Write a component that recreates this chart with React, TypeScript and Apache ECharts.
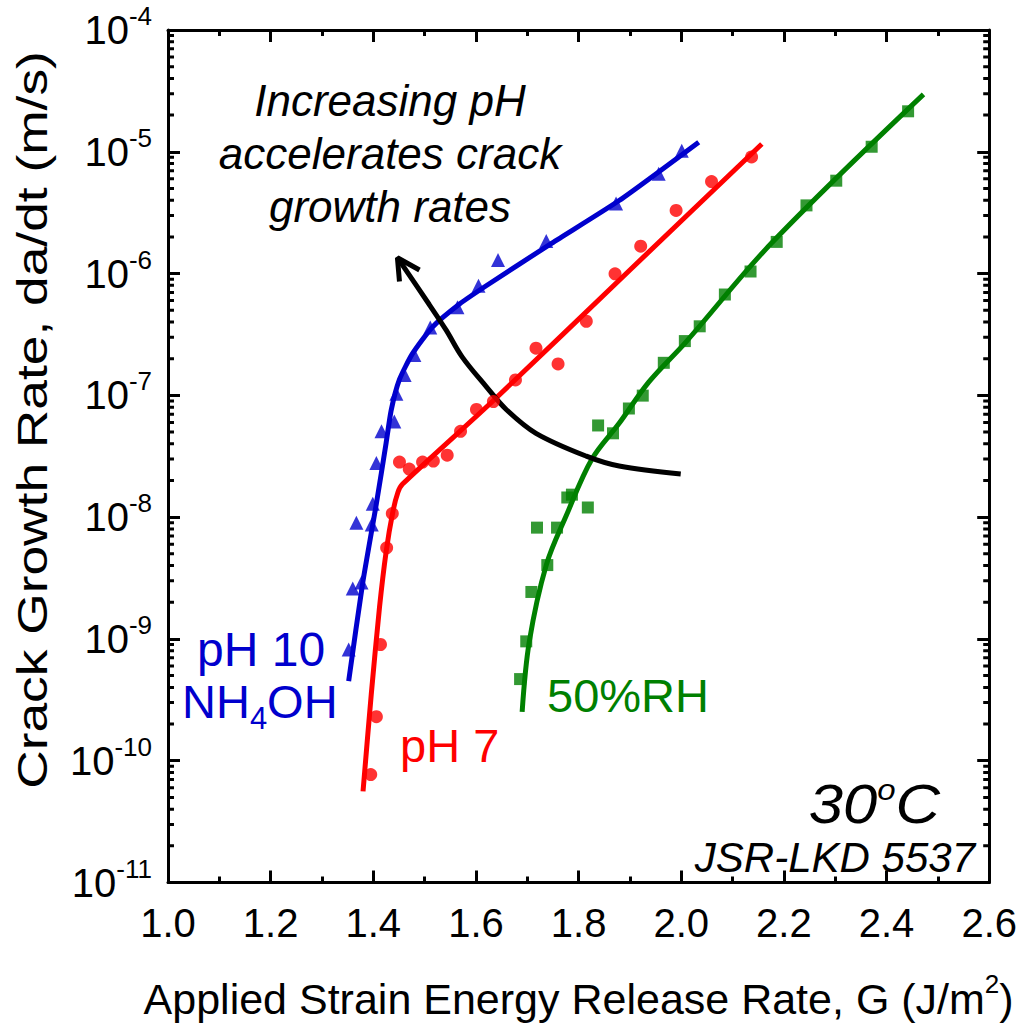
import React, { useEffect, useRef } from "react";
import * as echarts from "echarts";

const FONT = '"Liberation Sans", Arial, Helvetica, sans-serif';

// x tick values (major)
const xTicks = [1.0, 1.2, 1.4, 1.6, 1.8, 2.0, 2.2, 2.4, 2.6];
// y decades (exponents)
const yDecades = [-11, -10, -9, -8, -7, -6, -5, -4];

// pH 10 NH4OH data (G, da/dt)
const ph10G = [1.352, 1.360, 1.377, 1.367, 1.397, 1.399, 1.406, 1.416, 1.441, 1.445, 1.461, 1.480, 1.511, 1.564, 1.605, 1.643, 1.737, 1.873, 1.956, 2.001];
const ph10V = [8.2e-10, 2.6e-9, 2.9e-9, 9.0e-9, 8.7e-9, 1.29e-8, 2.78e-8, 5.07e-8, 6.1e-8, 1.03e-7, 1.47e-7, 2.14e-7, 3.6e-7, 5.3e-7, 7.96e-7, 1.29e-6, 1.85e-6, 3.77e-6, 6.6e-6, 1.02e-5];
// pH 10 fit
const ph10FitG = [1.352, 1.379, 1.406, 1.425, 1.435, 1.451, 1.476, 1.515, 1.568, 1.620, 1.748, 1.879, 2.034];
const ph10FitV = [4.5e-10, 2.82e-9, 1.29e-8, 4.07e-8, 7.6e-8, 1.35e-7, 2.19e-7, 3.63e-7, 5.62e-7, 7.94e-7, 1.78e-6, 3.98e-6, 1.2e-5];

// pH 7 data
const ph7G = [1.395, 1.406, 1.414, 1.426, 1.437, 1.451, 1.470, 1.496, 1.517, 1.544, 1.570, 1.601, 1.634, 1.677, 1.717, 1.760, 1.815, 1.871, 1.921, 1.990, 2.059, 2.137];
const ph7V = [7.7e-11, 2.3e-10, 9.0e-10, 5.6e-9, 1.07e-8, 2.83e-8, 2.48e-8, 2.83e-8, 2.89e-8, 3.23e-8, 5.07e-8, 7.66e-8, 8.9e-8, 1.34e-7, 2.44e-7, 1.81e-7, 4.06e-7, 9.95e-7, 1.68e-6, 3.3e-6, 5.69e-6, 9.08e-6];
// pH 7 fit
const ph7FitG = [1.380, 1.396, 1.412, 1.425, 1.438, 1.448, 1.457, 1.632, 1.900, 2.157];
const ph7FitV = [5.6e-11, 3.5e-10, 1.8e-9, 5.2e-9, 1.1e-8, 1.6e-8, 1.87e-8, 8.9e-8, 1.07e-6, 1.16e-5];

// 50%RH data
const rhG = [1.686, 1.698, 1.708, 1.739, 1.719, 1.758, 1.778, 1.787, 1.818, 1.838, 1.867, 1.898, 1.925, 1.966, 2.007, 2.036, 2.085, 2.135, 2.186, 2.244, 2.302, 2.371, 2.442];
const rhV = [4.68e-10, 9.55e-10, 2.43e-9, 4.04e-9, 8.2e-9, 8.2e-9, 1.45e-8, 1.53e-8, 1.2e-8, 5.66e-8, 4.88e-8, 7.8e-8, 9.95e-8, 1.85e-7, 2.79e-7, 3.69e-7, 6.73e-7, 1.04e-6, 1.82e-6, 3.63e-6, 5.79e-6, 1.10e-5, 2.15e-5];
// 50%RH fit
const rhFitG = [1.690, 1.704, 1.737, 1.776, 1.826, 1.879, 1.937, 2.009, 2.176, 2.472];
const rhFitV = [2.52e-10, 9.55e-10, 4.04e-9, 1.03e-8, 3.0e-8, 5.89e-8, 1.29e-7, 2.74e-7, 1.78e-6, 2.96e-5];

// annotation arrow (G, da/dt), from tail to tip
const arrowG = [1.999, 1.879, 1.815, 1.717, 1.659, 1.620, 1.573, 1.542, 1.509, 1.447];
const arrowV = [2.26e-8, 2.63e-8, 3.17e-8, 4.88e-8, 7.66e-8, 1.18e-7, 2.07e-7, 3.43e-7, 5.57e-7, 1.35e-6];
const arrowHeadG = [1.451, 1.447, 1.490];
const arrowHeadV = [8.6e-7, 1.35e-6, 1.07e-6];

const BLUE = "#0000CD";
const RED = "#FF0000";
const GREEN = "#008000";

const zip = (a: number[], b: number[]) => a.map((v, i) => [v, b[i]]);

export default function App() {
  const ref = useRef<HTMLDivElement>(null);
  useEffect(() => {
    if (!ref.current) return;
    const chart = echarts.init(ref.current, undefined, { renderer: "svg" });
    const xMin = xTicks[0];
    const xMax = xTicks[xTicks.length - 1];
    const yMin = Math.pow(10, yDecades[0]);
    const yMax = Math.pow(10, yDecades[yDecades.length - 1]);
    const gridL = 168, gridT = 30, gridR = 29, gridB = 135;
    const plotW = 1020 - gridL - gridR;
    const gPerPx = (xMax - xMin) / plotW;

    // minor log ticks (2..9 x 10^n) drawn as short segments on both y sides
    const minorLen = 6;
    const minorTickData: any[] = [];
    yDecades.slice(0, -1).forEach((e) => {
      for (let k = 2; k <= 9; k++) {
        const v = k * Math.pow(10, e);
        minorTickData.push([xMin, v], [xMin + minorLen * gPerPx, v], null);
        minorTickData.push([xMax, v], [xMax - minorLen * gPerPx, v], null);
      }
    });

    const axisLine = { show: true, lineStyle: { color: "#000", width: 3 } };
    const majorTick = () => ({ show: true, inside: true, length: 12, lineStyle: { color: "#000", width: 3 } });
    const minorTick = () => ({ show: true, splitNumber: 2, length: 6, lineStyle: { color: "#000", width: 3 } });
    const lineSeries = (name: string, g: number[], v: number[], color: string, smooth: number | boolean) => ({
      name,
      type: "line",
      xAxisIndex: 0,
      yAxisIndex: 0,
      data: zip(g, v),
      showSymbol: false,
      symbol: "none",
      smooth,
      lineStyle: { color, width: 5 },
      z: 2,
    });
    const scatter = (name: string, g: number[], v: number[], color: string, symbol: string, size: number) => ({
      name,
      type: "scatter",
      xAxisIndex: 0,
      yAxisIndex: 0,
      data: zip(g, v),
      symbol,
      symbolSize: size,
      itemStyle: { color },
      z: 3,
    });
    const option: any = {
      animation: false,
      backgroundColor: "#fff",
      grid: { left: gridL, top: gridT, right: gridR, bottom: gridB },
      xAxis: [
        {
          type: "value",
          min: xMin,
          max: xMax,
          interval: 0.2,
          position: "bottom",
          axisLine,
          axisTick: majorTick(),
          minorTick: minorTick(),
          splitLine: { show: false },
          minorSplitLine: { show: false },
          axisLabel: {
            fontFamily: FONT,
            fontSize: 40,
            color: "#000",
            margin: 20,
            formatter: (v: number) => v.toFixed(1),
          },
          name: "{a|Applied Strain Energy Release Rate, G (J/m}{s|2}{a|)}",
          nameLocation: "middle",
          nameGap: 88,
          nameTextStyle: {
            rich: {
              a: { fontFamily: FONT, fontSize: 43, color: "#000" },
              s: { fontFamily: FONT, fontSize: 26, color: "#000", padding: [0, 0, 30, 0] },
            },
          },
        },
        {
          type: "value",
          min: xMin,
          max: xMax,
          interval: 0.2,
          position: "top",
          axisLine,
          axisTick: majorTick(),
          minorTick: minorTick(),
          splitLine: { show: false },
          minorSplitLine: { show: false },
          axisLabel: { show: false },
        },
      ],
      yAxis: [
        {
          type: "log",
          logBase: 10,
          min: yMin,
          max: yMax,
          splitNumber: 7,
          position: "left",
          axisLine,
          axisTick: majorTick(),
          splitLine: { show: false },
          axisLabel: {
            margin: 16,
            formatter: (v: number) => `{b|10}{s|${Math.round(Math.log10(v))}}`,
            rich: {
              b: { fontFamily: FONT, fontSize: 40, color: "#000" },
              s: { fontFamily: FONT, fontSize: 26, color: "#000", padding: [0, 0, 28, 0] },
            },
          },
        },
        {
          type: "log",
          logBase: 10,
          min: yMin,
          max: yMax,
          splitNumber: 7,
          position: "right",
          axisLine,
          axisTick: majorTick(),
          splitLine: { show: false },
          axisLabel: { show: false },
        },
      ],
      series: [
        {
          name: "minor y ticks",
          type: "line",
          xAxisIndex: 0,
          yAxisIndex: 0,
          data: minorTickData,
          showSymbol: false,
          symbol: "none",
          silent: true,
          lineStyle: { color: "#000", width: 3, cap: "butt" },
          z: 5,
        },
        lineSeries("pH 10 fit", ph10FitG, ph10FitV, BLUE, 0.2),
        lineSeries("pH 7 fit", ph7FitG, ph7FitV, RED, 0.25),
        lineSeries("50%RH fit", rhFitG, rhFitV, GREEN, 0.35),
        lineSeries("arrow", arrowG, arrowV, "#000", 0.35),
        lineSeries("arrow head", arrowHeadG, arrowHeadV, "#000", false),
        scatter("pH 10 NH4OH", ph10G, ph10V, BLUE, "triangle", 14),
        scatter("pH 7", ph7G, ph7V, RED, "circle", 13),
        scatter("50%RH", rhG, rhV, GREEN, "rect", 12),
      ],
      graphic: [
        {
          type: "text",
          x: 32,
          y: 420,
          rotation: Math.PI / 2,
          scaleX: 1.24,
          style: {
            text: "Crack Growth Rate, da/dt (m/s)",
            fontFamily: FONT,
            fontSize: 43,
            fill: "#000",
            align: "center",
            verticalAlign: "middle",
            textAlign: "center",
            textVerticalAlign: "middle",
          },
        },
        {
          type: "text",
          x: 390,
          y: 153,
          style: {
            text: "Increasing pH\naccelerates crack\ngrowth rates",
            fontFamily: FONT,
            fontStyle: "italic",
            fontSize: 44,
            lineHeight: 53,
            fill: "#000",
            align: "center",
            verticalAlign: "middle",
            textAlign: "center",
            textVerticalAlign: "middle",
          },
        },
        {
          type: "text",
          x: 197,
          y: 649,
          style: { text: "pH 10", fontFamily: FONT, fontSize: 48, fill: BLUE, align: "left", verticalAlign: "middle", textAlign: "left", textVerticalAlign: "middle" },
        },
        {
          type: "text",
          x: 182,
          y: 701,
          style: {
            text: "{n|NH}{u|4}{n|OH}",
            fill: BLUE,
            align: "left",
            verticalAlign: "middle",
            textAlign: "left",
            textVerticalAlign: "middle",
            rich: {
              n: { fontFamily: FONT, fontSize: 47 },
              u: { fontFamily: FONT, fontSize: 31, padding: [34, 0, 0, 0] },
            },
          },
        },
        {
          type: "text",
          x: 400,
          y: 745,
          style: { text: "pH 7", fontFamily: FONT, fontSize: 47, fill: RED, align: "left", verticalAlign: "middle", textAlign: "left", textVerticalAlign: "middle" },
        },
        {
          type: "text",
          x: 547,
          y: 695,
          style: { text: "50%RH", fontFamily: FONT, fontSize: 47, fill: GREEN, align: "left", verticalAlign: "middle", textAlign: "left", textVerticalAlign: "middle" },
        },
        {
          type: "text",
          x: 940,
          y: 803,
          scaleX: 1.1,
          style: {
            text: "{i|30}{o|o}{i|C}",
            fill: "#000",
            align: "right",
            verticalAlign: "middle",
            textAlign: "right",
            textVerticalAlign: "middle",
            rich: {
              i: { fontFamily: FONT, fontSize: 56, fontStyle: "italic", lineHeight: 56 },
              o: { fontFamily: FONT, fontSize: 30, fontStyle: "italic", lineHeight: 30, padding: [0, 0, 26, 0] },
            },
          },
        },
        {
          type: "text",
          x: 975,
          y: 857,
          style: { text: "JSR-LKD 5537", fontFamily: FONT, fontStyle: "italic", fontSize: 42, fill: "#000", align: "right", verticalAlign: "middle", textAlign: "right", textVerticalAlign: "middle" },
        },
      ],
    };
    chart.setOption(option);
    return () => chart.dispose();
  }, []);
  return <div ref={ref} style={{ width: 1020, height: 1025, position: "absolute", left: 0, top: 0 }} />;
}
